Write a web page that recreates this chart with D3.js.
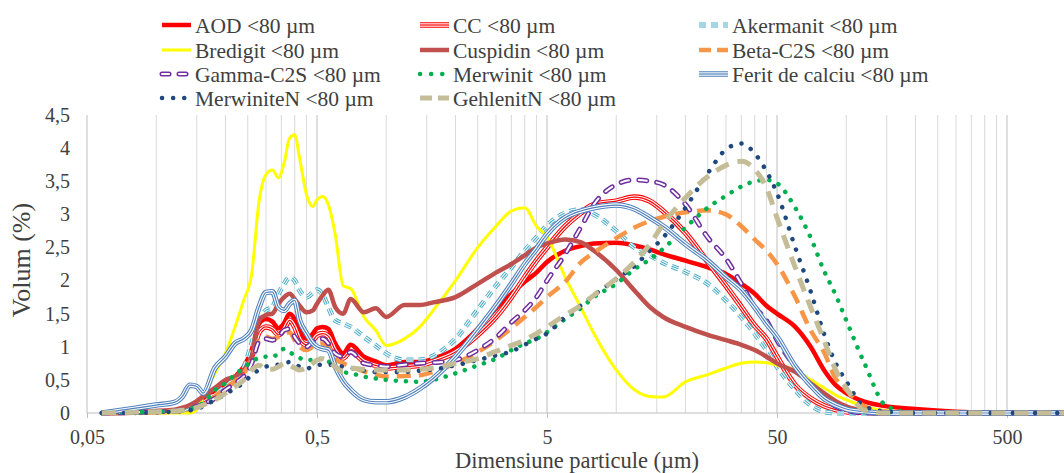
<!DOCTYPE html>
<html>
<head>
<meta charset="utf-8">
<script src="https://cdn.jsdelivr.net/npm/d3@7"></script>
<style>
  body { margin: 0; background: #fff; }
  svg { display: block; }
  svg text { font-family: "Liberation Serif", "Times New Roman", Times, "DejaVu Serif", serif !important; fill: #404040; }
</style>
</head>
<body>
<script>
// particle size classes (µm)
const sizes = [
  0.058, 0.08, 0.1, 0.12, 0.13, 0.14, 0.15, 0.16, 0.18, 0.2,
  0.22, 0.24, 0.26, 0.28, 0.3, 0.32, 0.34, 0.36, 0.38, 0.4,
  0.42, 0.45, 0.48, 0.5, 0.53, 0.56, 0.6, 0.65, 0.7, 0.8,
  0.9, 1.0, 1.2, 1.4, 1.6, 2.0, 2.5, 3, 3.5, 4,
  4.5, 5, 6, 7, 8, 10, 12, 14, 16, 20,
  25, 30, 35, 40, 45, 50, 60, 70, 80, 90,
  100, 120, 150, 200, 300, 500, 1000, 2000
];

// volume (%) per series
const aod = [
  0, 0.01, 0.02, 0.03, 0.05, 0.08, 0.12, 0.18, 0.3, 0.42,
  0.55, 0.7, 0.95, 1.35, 1.42, 1.38, 1.28, 1.36, 1.5, 1.42,
  1.25, 1.12, 1.2, 1.28, 1.3, 1.27, 1.05, 0.9, 1.03, 0.85,
  0.78, 0.72, 0.77, 0.77, 0.82, 0.97, 1.27, 1.58, 1.8, 1.98,
  2.12, 2.28, 2.45, 2.52, 2.56, 2.57, 2.53, 2.47, 2.4, 2.3,
  2.2, 2.1, 1.95, 1.8, 1.62, 1.5, 1.3, 1.0, 0.65, 0.42,
  0.3, 0.17, 0.1, 0.06, 0.02, 0, 0, 0
];
const cc = [
  0, 0.01, 0.02, 0.03, 0.05, 0.07, 0.11, 0.16, 0.27, 0.38,
  0.5, 0.64, 0.85, 1.22, 1.3, 1.27, 1.18, 1.27, 1.4, 1.3,
  1.12, 1.03, 1.1, 1.17, 1.2, 1.16, 0.95, 0.83, 0.93, 0.78,
  0.72, 0.68, 0.7, 0.72, 0.78, 0.92, 1.18, 1.45, 1.75, 2.05,
  2.3, 2.5, 2.82, 3.02, 3.15, 3.2, 3.26, 3.2, 3.05, 2.72,
  2.28, 1.92, 1.6, 1.32, 1.12, 0.85, 0.42, 0.22, 0.11, 0.05,
  0.02, 0.01, 0, 0, 0, 0, 0, 0
];
const akermanit = [
  0, 0.01, 0.02, 0.03, 0.05, 0.08, 0.12, 0.17, 0.28, 0.4,
  0.52, 0.68, 1.05, 1.42, 1.55, 1.6, 1.8, 1.95, 2.05, 2.0,
  1.85, 1.75, 1.82, 1.86, 1.78, 1.6, 1.4, 1.35, 1.3, 1.15,
  1.02, 0.9, 0.8, 0.8, 0.86, 1.12, 1.56, 1.92, 2.2, 2.45,
  2.65, 2.83, 3.02, 3.07, 3.0, 2.75, 2.5, 2.38, 2.27, 2.13,
  1.95, 1.7, 1.45, 1.2, 0.95, 0.7, 0.35, 0.12, 0.02, 0,
  0, 0, 0, 0, 0, 0, 0, 0
];
const bredigit = [
  0, 0, 0, 0, 0, 0, 0.05, 0.25, 0.6, 0.9,
  1.3, 1.7, 2.1, 3.2, 3.6, 3.67, 3.55, 3.78, 4.15, 4.2,
  3.85, 3.3, 3.12, 3.22, 3.27, 3.15, 2.7, 1.92, 1.88, 1.45,
  1.25, 1.02, 1.12, 1.3, 1.55, 2.0, 2.5, 2.82, 3.05, 3.1,
  2.82, 2.66, 2.05, 1.6, 1.2, 0.65, 0.35, 0.25, 0.24, 0.47,
  0.58, 0.68, 0.75, 0.77, 0.76, 0.72, 0.65, 0.5, 0.38, 0.27,
  0.2, 0.1, 0.03, 0, 0, 0, 0, 0
];
const cuspidin = [
  0, 0.02, 0.03, 0.05, 0.08, 0.12, 0.18, 0.25, 0.38, 0.5,
  0.55, 0.65, 0.85, 1.4, 1.48, 1.5, 1.65, 1.75, 1.8, 1.72,
  1.62, 1.52, 1.55, 1.65, 1.78, 1.86, 1.6, 1.5, 1.72, 1.52,
  1.58, 1.45, 1.63, 1.63, 1.67, 1.75, 1.95, 2.12, 2.25, 2.38,
  2.5, 2.56, 2.62, 2.58, 2.45, 2.16, 1.85, 1.6, 1.45, 1.3,
  1.18, 1.1, 1.03, 0.95, 0.85, 0.75, 0.62, 0.45, 0.3, 0.18,
  0.1, 0.03, 0, 0, 0, 0, 0, 0
];
const betaC2S = [
  0, 0.01, 0.02, 0.03, 0.04, 0.07, 0.1, 0.15, 0.25, 0.38,
  0.48, 0.6, 0.8, 1.1, 1.15, 1.12, 1.15, 1.2, 1.22, 1.1,
  1.0, 0.95, 1.0, 1.03, 1.05, 1.0, 0.82, 0.75, 0.7, 0.63,
  0.58, 0.55, 0.56, 0.57, 0.62, 0.75, 0.92, 1.1, 1.28, 1.45,
  1.6, 1.75, 1.98, 2.27, 2.42, 2.64, 2.8, 2.9, 2.96, 3.03,
  3.06, 3.0, 2.82, 2.62, 2.45, 2.25, 1.75, 1.25, 0.92, 0.52,
  0.35, 0.1, 0.02, 0, 0, 0, 0, 0
];
const gammaC2S = [
  0, 0.01, 0.02, 0.03, 0.04, 0.06, 0.1, 0.14, 0.22, 0.35,
  0.45, 0.55, 0.75, 1.08, 1.12, 1.1, 1.15, 1.25, 1.27, 1.15,
  1.05, 1.0, 1.08, 1.12, 1.12, 1.05, 0.9, 0.85, 0.92, 0.75,
  0.72, 0.7, 0.73, 0.75, 0.76, 0.8, 0.95, 1.14, 1.37, 1.55,
  1.75, 2.0, 2.4, 2.8, 3.15, 3.45, 3.52, 3.5, 3.45, 3.15,
  2.65, 2.33, 1.95, 1.6, 1.4, 1.1, 0.7, 0.42, 0.22, 0.1,
  0.04, 0, 0, 0, 0, 0, 0, 0
];
const merwinit = [
  0, 0.01, 0.02, 0.03, 0.04, 0.06, 0.1, 0.15, 0.35, 0.45,
  0.58, 0.68, 0.78, 0.83, 0.85, 0.85, 0.9, 0.97, 0.92, 0.87,
  0.83, 0.8, 0.8, 0.8, 0.83, 0.78, 0.7, 0.62, 0.6, 0.55,
  0.52, 0.5, 0.48, 0.47, 0.5, 0.6, 0.72, 0.82, 0.95, 1.05,
  1.12, 1.22, 1.42, 1.58, 1.75, 1.95, 2.17, 2.32, 2.48, 2.8,
  3.1, 3.28, 3.42, 3.5, 3.52, 3.47, 3.1, 2.65, 2.15, 1.78,
  1.4, 0.75, 0.1, 0, 0, 0, 0, 0
];
const feritCalciu = [
  0, 0.07, 0.12, 0.16, 0.25, 0.42, 0.4, 0.3, 0.68, 0.85,
  1.05, 1.12, 1.25, 1.6, 1.82, 1.83, 1.6, 1.55, 1.65, 1.7,
  1.4, 1.2, 1.05, 1.0, 0.97, 0.95, 0.7, 0.48, 0.35, 0.2,
  0.17, 0.17, 0.24, 0.37, 0.52, 0.85, 1.26, 1.62, 1.95, 2.25,
  2.48, 2.7, 2.95, 3.05, 3.1, 3.14, 3.08, 2.95, 2.82, 2.55,
  2.3, 2.05, 1.85, 1.6, 1.35, 1.15, 0.7, 0.42, 0.22, 0.12,
  0.06, 0.02, 0, 0, 0, 0, 0, 0
];
const merwiniteN = [
  0, 0, 0.01, 0.02, 0.03, 0.04, 0.06, 0.1, 0.2, 0.28,
  0.38, 0.45, 0.58, 0.65, 0.7, 0.72, 0.73, 0.75, 0.77, 0.74,
  0.7, 0.67, 0.7, 0.72, 0.73, 0.73, 0.72, 0.7, 0.68, 0.64,
  0.62, 0.62, 0.62, 0.64, 0.66, 0.72, 0.8, 0.87, 0.93, 1.03,
  1.12, 1.2, 1.45, 1.62, 1.78, 2.02, 2.22, 2.45, 2.65, 3.1,
  3.62, 3.98, 4.07, 3.92, 3.65, 3.32, 2.5, 1.84, 1.2, 0.75,
  0.48, 0.1, 0.02, 0, 0, 0, 0, 0
];
const gehlenitN = [
  0, 0.01, 0.02, 0.03, 0.04, 0.06, 0.08, 0.12, 0.2, 0.3,
  0.4, 0.5, 0.65, 0.72, 0.66, 0.66, 0.7, 0.75, 0.72, 0.68,
  0.65, 0.68, 0.75, 0.8, 0.82, 0.78, 0.7, 0.62, 0.68, 0.66,
  0.65, 0.65, 0.65, 0.66, 0.68, 0.75, 0.82, 0.93, 1.02, 1.1,
  1.2, 1.3, 1.48, 1.62, 1.78, 2.03, 2.28, 2.55, 2.85, 3.25,
  3.57, 3.74, 3.8, 3.68, 3.4, 2.95, 2.2, 1.6, 1.1, 0.65,
  0.38, 0.04, 0, 0, 0, 0, 0, 0
];

const seriesNames = [
  "AOD <80 µm", "CC <80 µm", "Akermanit <80 µm",
  "Bredigit <80 µm", "Cuspidin <80 µm", "Beta-C2S <80 µm",
  "Gamma-C2S <80 µm", "Merwinit <80 µm", "Ferit de calciu <80 µm",
  "MerwiniteN <80 µm", "GehlenitN <80 µm"
];
const seriesValues = [aod, cc, akermanit, bredigit, cuspidin, betaC2S,
  gammaC2S, merwinit, feritCalciu, merwiniteN, gehlenitN];

const xTicks = [0.05, 0.5, 5, 50, 500];
const xTickLabels = ["0,05", "0,5", "5", "50", "500"];
const yTicks = [0, 0.5, 1, 1.5, 2, 2.5, 3, 3.5, 4, 4.5];

const serif = "'Liberation Serif', 'Times New Roman', Times, 'DejaVu Serif', serif";

// line looks (Excel style)
const styles = [
  { color: "#ff0000", width: 4.5 },
  { color: "#ff0000", width: 5.5, triple: true },
  { color: "#4bacc6", width: 5, dash: "7,5", triple: true },
  { color: "#ffff00", width: 3 },
  { color: "#c0504d", width: 4.5 },
  { color: "#f79646", width: 4.5, dash: "14,8", legendDash: "12,6" },
  { color: "#7030a0", width: 5, dash: "8,10", round: true, hollow: true, legendDash: "7,10" },
  { color: "#00b050", width: 4.5, dash: "0.1,10", round: true, legendDash: "0.1,11" },
  { color: "#4f81bd", width: 5.5, triple: true },
  { color: "#1f497d", width: 4.5, dash: "0.1,11", round: true },
  { color: "#c4bd97", width: 5, dash: "14,9", legendDash: "12,6" }
];

const w = 1064;
const h = 473;

const svg = d3.select("body").append("svg")
  .attr("width", w)
  .attr("height", h)
  .attr("font-family", serif);

const xScale = d3.scaleLog().domain([0.05, 500]).range([87, 1007]);
const yScale = d3.scaleLinear().domain([0, 4.5]).range([413, 115]);

// vertical grid lines (1..9 x each decade start)
const gridVals = [];
xTicks.forEach((d) => {
  for (let k = 1; k <= 9; k++) {
    const v = d * k;
    if (xScale(v) <= w) gridVals.push(v);
  }
});

svg.append("g")
  .selectAll("line")
  .data(gridVals)
  .enter()
  .append("line")
  .attr("x1", (d) => xScale(d))
  .attr("x2", (d) => xScale(d))
  .attr("y1", yScale(4.5))
  .attr("y2", yScale(0))
  .attr("stroke", (d) => (xTicks.includes(d) ? "#bfbfbf" : "#d9d9d9"))
  .attr("stroke-width", 1);

// x axis
const xAxis = d3.axisBottom(xScale)
  .tickValues(xTicks)
  .tickFormat((d, i) => xTickLabels[i])
  .tickSize(5)
  .tickPadding(12);

const gx = svg.append("g")
  .attr("id", "x-axis")
  .attr("transform", "translate(0," + yScale(0) + ")")
  .call(xAxis)
  .attr("font-family", serif);
gx.select(".domain").remove();
gx.append("line")
  .attr("x1", 87).attr("x2", w)
  .attr("y1", 0).attr("y2", 0)
  .attr("stroke", "#bfbfbf");
gx.selectAll(".tick line").attr("stroke", "#bfbfbf");
gx.selectAll(".tick text")
  .style("font-size", "20px")
  .attr("fill", "#404040");

// y axis labels only
const yAxis = d3.axisLeft(yScale)
  .tickValues(yTicks)
  .tickFormat((d) => String(d).replace(".", ","))
  .tickSize(0)
  .tickPadding(17);

const gy = svg.append("g")
  .attr("id", "y-axis")
  .attr("transform", "translate(87,0)")
  .call(yAxis)
  .attr("font-family", serif);
gy.select(".domain").remove();
gy.selectAll(".tick text")
  .style("font-size", "20px")
  .attr("fill", "#404040");

// clip to plot
svg.append("clipPath")
  .attr("id", "plot")
  .append("rect")
  .attr("x", 87).attr("y", 100)
  .attr("width", w - 87).attr("height", 330);

const line = d3.line()
  .x((d) => xScale(d[0]))
  .y((d) => yScale(d[1]))
  .curve(d3.curveMonotoneX);

const plot = svg.append("g").attr("clip-path", "url(#plot)");

const drawStroke = (g, dAttr, s, tag, dash) => {
  const base = g.append(tag)
    .attr("fill", "none")
    .attr("stroke", s.color)
    .attr("stroke-width", s.width)
    .attr("stroke-linejoin", "round")
    .attr("stroke-linecap", s.round ? "round" : "butt");
  dAttr(base);
  if (dash) base.attr("stroke-dasharray", dash);
  if (s.triple) {
    const mid = g.append(tag)
      .attr("fill", "none")
      .attr("stroke", "#fff")
      .attr("stroke-width", s.width * 0.62)
      .attr("stroke-linejoin", "round");
    dAttr(mid);
    if (dash) mid.attr("stroke-dasharray", dash);
    const inner = g.append(tag)
      .attr("fill", "none")
      .attr("stroke", s.color)
      .attr("stroke-width", s.width * 0.22)
      .attr("stroke-linejoin", "round");
    dAttr(inner);
    if (dash) inner.attr("stroke-dasharray", dash);
  }
  if (s.hollow) {
    const mid = g.append(tag)
      .attr("fill", "none")
      .attr("stroke", "#fff")
      .attr("stroke-width", s.width * 0.4)
      .attr("stroke-linejoin", "round")
      .attr("stroke-linecap", "round");
    dAttr(mid);
    if (dash) mid.attr("stroke-dasharray", dash);
  }
};

seriesValues.forEach((vals, i) => {
  const pts = sizes.map((s, j) => [s, vals[j]]);
  const g = plot.append("g").attr("class", "series");
  drawStroke(g, (p) => p.datum(pts).attr("d", line), styles[i], "path", styles[i].dash);
});

// legend
const legendCols = [160, 418, 697];
const legendRows = [25, 50, 74, 98];
const legend = svg.append("g").attr("class", "legend");
seriesNames.forEach((name, i) => {
  const cx = legendCols[i % 3];
  const cy = legendRows[Math.floor(i / 3)];
  const s = styles[i];
  const g = legend.append("g");
  drawStroke(g, (p) => p.attr("x1", cx + 2).attr("x2", cx + 31).attr("y1", cy).attr("y2", cy),
    s, "line", s.legendDash || s.dash);
  g.append("text")
    .attr("x", cx + 35)
    .attr("y", cy)
    .attr("dy", "0.35em")
    .style("font-size", "21.5px")
    .text(name);
});

// axis titles
svg.append("text")
  .attr("x", 577)
  .attr("y", 468)
  .attr("text-anchor", "middle")
  .style("font-size", "22.5px")
  .text("Dimensiune particule (µm)");

svg.append("text")
  .attr("transform", "translate(30,260) rotate(-90)")
  .attr("text-anchor", "middle")
  .style("font-size", "26px")
  .text("Volum (%)");
</script>
</body>
</html>
